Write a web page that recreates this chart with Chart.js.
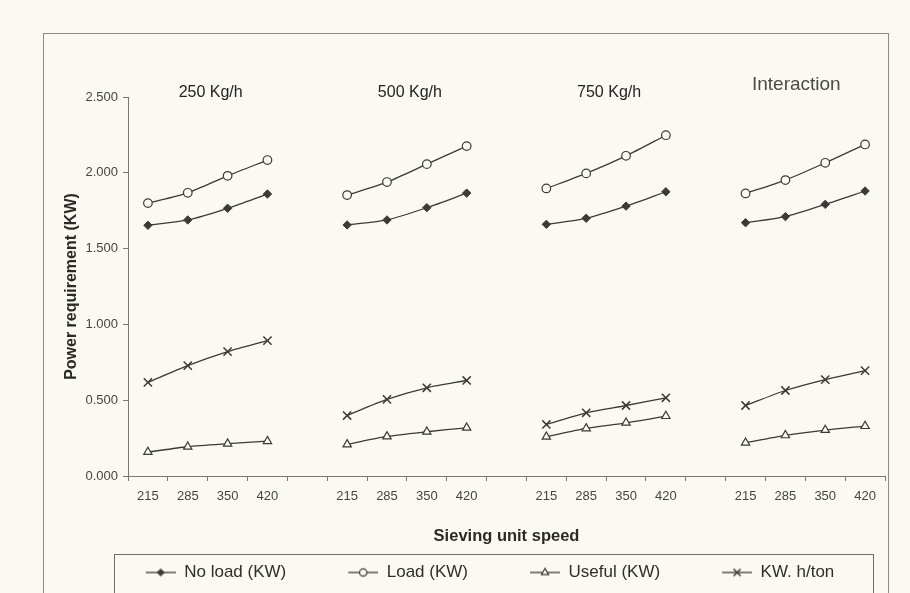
<!DOCTYPE html>
<html>
<head>
<meta charset="utf-8">
<script src="https://cdn.jsdelivr.net/npm/chart.js"></script>
<style>
  html, body { margin: 0; padding: 0; background: #fbfaf2; }
  #wrap { position: relative; width: 910px; height: 593px; overflow: hidden; background: #fbfaf2; }
  #frame { position: absolute; left: 43px; top: 33px; width: 846px; height: 600px; border: 1px solid #8a8a86; box-sizing: border-box; }
  canvas { position: absolute; left: 0; top: 0; }
</style>
</head>
<body>
<div id="wrap">
  <div id="frame"></div>
  <canvas id="c" width="910" height="593"></canvas>
</div>
<script>
// ---- data ----
const groups = ['250 Kg/h', '500 Kg/h', '750 Kg/h', 'Interaction'];
const speeds = ['215', '285', '350', '420'];
const yTicks = [0, 0.5, 1.0, 1.5, 2.0, 2.5];

const noLoad = [
  [1.654, 1.689, 1.766, 1.860],
  [1.656, 1.689, 1.770, 1.866],
  [1.660, 1.700, 1.780, 1.875],
  [1.671, 1.711, 1.792, 1.880]
];
const load = [
  [1.800, 1.868, 1.980, 2.084],
  [1.853, 1.939, 2.057, 2.176],
  [1.897, 1.996, 2.112, 2.248],
  [1.864, 1.952, 2.066, 2.187]
];
const useful = [
  [0.158, 0.193, 0.213, 0.230],
  [0.208, 0.261, 0.292, 0.318],
  [0.259, 0.314, 0.351, 0.395],
  [0.219, 0.268, 0.303, 0.329]
];
const kwhTon = [
  [0.618, 0.728, 0.820, 0.893],
  [0.399, 0.505, 0.582, 0.630],
  [0.340, 0.417, 0.465, 0.516],
  [0.465, 0.564, 0.636, 0.695]
];
const seriesNames = ['No load (KW)', 'Load (KW)', 'Useful (KW)', 'KW. h/ton'];

// ---- build category axis (4 groups, blank slot between groups) ----
function flatten(arr) {
  const out = [];
  arr.forEach((g, i) => { out.push(...g); if (i < arr.length - 1) out.push(null); });
  return out;
}
const labels = [];
groups.forEach((g, i) => { labels.push(...speeds); if (i < groups.length - 1) labels.push(''); });

const LINE = '#3a3a38';
const FONT = "'Liberation Sans Narrow', 'Liberation Sans', Arial, sans-serif";
const styles = [
  { pointStyle: 'rectRot', radius: 4.2, bg: LINE, bw: 1 },
  { pointStyle: 'circle', radius: 4.3, bg: '#fbfaf2', bw: 1.2 },
  { pointStyle: 'triangle', radius: 4.8, bg: '#fbfaf2', bw: 1.2 },
  { pointStyle: 'crossRot', radius: 5.8, bg: LINE, bw: 1.5 }
];
const seriesData = [noLoad, load, useful, kwhTon];

const datasets = seriesData.map((d, i) => ({
  label: seriesNames[i],
  data: flatten(d),
  borderColor: LINE,
  borderWidth: 1.3,
  tension: 0.25,
  spanGaps: false,
  pointStyle: styles[i].pointStyle,
  pointRadius: styles[i].radius,
  pointBackgroundColor: styles[i].bg,
  pointBorderColor: LINE,
  pointBorderWidth: styles[i].bw,
  fill: false
}));

// legend icon: line with marker, leading gap so items spread out
const GAP = 52;
function legendIcon(i) {
  const w = 30 + GAP, h = 14;
  const cv = document.createElement('canvas');
  cv.width = w; cv.height = h;
  const ctx = cv.getContext('2d');
  ctx.strokeStyle = LINE; ctx.lineWidth = 1.3;
  ctx.beginPath(); ctx.moveTo(GAP, h / 2); ctx.lineTo(w, h / 2); ctx.stroke();
  ctx.fillStyle = styles[i].bg;
  ctx.lineWidth = styles[i].bw;
  Chart.helpers.drawPoint(ctx, {
    pointStyle: styles[i].pointStyle,
    radius: styles[i].radius * 0.85,
    rotation: 0,
    borderWidth: styles[i].bw
  }, GAP + 15, h / 2);
  return cv;
}

const decor = {
  id: 'decor',
  afterDraw(chart) {
    const ctx = chart.ctx;
    const xs = chart.scales.x;
    const top = chart.chartArea.top;
    ctx.save();
    ctx.textAlign = 'center';
    ctx.textBaseline = 'middle';
    groups.forEach((g, i) => {
      const cx = xs.getPixelForValue(i * 5 + 1.5);
      if (i === groups.length - 1) {
        ctx.font = "19px 'Liberation Sans', Arial, sans-serif";
        ctx.fillStyle = '#4a4a48';
        ctx.fillText(g, cx - 9, top - 12);
      } else {
        ctx.font = "16px 'Liberation Sans', Arial, sans-serif";
        ctx.fillStyle = '#222';
        ctx.fillText(g, cx + 3, top - 4);
      }
    });
    // legend frame
    const lg = chart.legend;
    ctx.strokeStyle = '#6d6d6a';
    ctx.lineWidth = 1;
    ctx.strokeRect(chart.chartArea.left - 13.5, lg.top + 0.5, (chart.chartArea.right - 11) - (chart.chartArea.left - 13), lg.bottom - lg.top + 8);
    ctx.restore();
  }
};

new Chart(document.getElementById('c'), {
  type: 'line',
  data: { labels, datasets },
  plugins: [decor],
  options: {
    responsive: false,
    animation: false,
    layout: { padding: { left: 43, right: 25, top: 97, bottom: 2 } },
    plugins: {
      tooltip: { enabled: false },
      title: { display: false },
      legend: {
        display: true,
        position: 'bottom',
        labels: {
          usePointStyle: true,
          pointStyleWidth: 30 + GAP,
          padding: 10,
          color: '#2e2e2c',
          font: { family: FONT, size: 17 },
          generateLabels: (chart) => chart.data.datasets.map((ds, i) => ({
            text: ds.label,
            pointStyle: legendIcon(i),
            fillStyle: 'transparent',
            strokeStyle: 'transparent',
            lineWidth: 0,
            hidden: false,
            datasetIndex: i,
            fontColor: '#2e2e2c'
          }))
        }
      }
    },
    scales: {
      x: {
        type: 'category',
        offset: true,
        afterFit: (s) => { s.height = 78; },
        grid: { display: true, drawOnChartArea: false, tickLength: 5, color: '#777', offset: true },
        border: { display: true, color: '#777', width: 1 },
        ticks: { autoSkip: false, maxRotation: 0, minRotation: 0, padding: 8, color: '#444', font: { family: FONT, size: 13 } },
        title: {
          display: true,
          text: 'Sieving unit speed',
          color: '#2a2a28',
          font: { family: "'Liberation Sans', Arial, sans-serif", size: 16.5, weight: 'bold' },
          padding: { top: 0, bottom: 8 }
        }
      },
      y: {
        min: 0,
        max: 2.5,
        afterFit: (s) => { s.width = 85; },
        afterBuildTicks: (s) => { s.ticks = yTicks.map(v => ({ value: v })); },
        grid: { display: true, drawOnChartArea: false, tickLength: 5, color: '#777' },
        border: { display: true, color: '#777', width: 1 },
        ticks: {
          padding: 5,
          color: '#444',
          font: { family: FONT, size: 13 },
          callback: (v) => Number(v).toFixed(3)
        },
        title: {
          display: true,
          text: 'Power requirement (KW)',
          color: '#2a2a28',
          font: { family: "'Liberation Sans', Arial, sans-serif", size: 16, weight: 'bold' },
          padding: { top: 19, bottom: 0 }
        }
      }
    }
  }
});
</script>
</body>
</html>
